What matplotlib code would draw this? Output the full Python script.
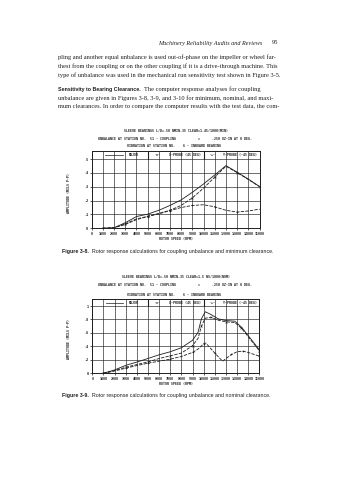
import numpy
from matplotlib import pyplot as plt

# ----------
# Data

rpm_ticks = list(range(0, 16000, 1000))

# Figure 3-8, minimum clearance
rpm_a = [1000, 2000, 3000, 4000, 5000, 6000, 7000, 8000, 9000, 10000, 11000, 12000, 13000, 14000, 15000]
major_a = [0.0, 0.004, 0.040, 0.085, 0.102, 0.130, 0.165, 0.205, 0.260, 0.320, 0.385, 0.452, 0.405, 0.355, 0.302]
xprobe_a = [0.0, 0.004, 0.032, 0.068, 0.086, 0.108, 0.130, 0.165, 0.220, 0.290, 0.370, 0.448, 0.402, 0.352, 0.300]
yprobe_a = [0.0, 0.004, 0.028, 0.062, 0.085, 0.104, 0.128, 0.150, 0.165, 0.170, 0.155, 0.130, 0.117, 0.125, 0.138]

# Figure 3-9, nominal clearance
rpm_b = [1000, 2000, 3000, 4000, 5000, 6000, 7000, 8000, 9000, 9500, 9800, 10150, 10700, 11300, 12000, 12800, 13400, 14000, 15000]
major_b = [0.0, 0.05, 0.118, 0.167, 0.220, 0.275, 0.320, 0.380, 0.490, 0.610, 0.810, 0.915, 0.870, 0.810, 0.784, 0.775, 0.686, 0.560, 0.350]
xprobe_b = [0.0, 0.04, 0.090, 0.130, 0.170, 0.220, 0.260, 0.300, 0.410, 0.520, 0.700, 0.820, 0.830, 0.790, 0.765, 0.755, 0.670, 0.545, 0.335]
rpm_by = [1000, 2000, 3000, 4000, 5000, 6000, 7000, 8000, 9000, 9500, 10000, 10200, 11000, 11700, 12500, 13000, 13500, 14000, 15000]
yprobe_b = [0.0, 0.035, 0.075, 0.115, 0.150, 0.180, 0.210, 0.250, 0.310, 0.360, 0.440, 0.450, 0.300, 0.180, 0.280, 0.320, 0.330, 0.310, 0.255]

W, H = 341, 480
ink = '#1e1e1e'
mono = 'DejaVu Sans Mono'

fig = plt.figure(figsize=(W / 100, H / 100), dpi=100)
fig.patch.set_facecolor('white')


def fx(x):
    return x / W


def fy(y):
    return 1 - y / H


def page_text(x, y, s, **kw):
    kw.setdefault('color', ink)
    kw.setdefault('va', 'center')
    fig.text(fx(x), fy(y), s, **kw)


# ----------
# Page text

serif = 'Liberation Serif'
page_text(158, 43, 'Machinery Reliability Audits and Reviews', family=serif, style='italic', fontsize=4.4)
page_text(278, 43, '95', family=serif, fontsize=4.6, ha='right')

body = [
    (57.3, 'pling and another equal unbalance is used out-of-phase on the impeller or wheel far-'),
    (66.0, 'thest from the coupling or on the other coupling if it is a drive-through machine. This'),
    (74.7, 'type of unbalance was used in the mechanical run sensitivity test shown in Figure 3-5.'),
    (97.7, 'unbalance are given in Figures 3-8, 3-9, and 3-10 for minimum, nominal, and maxi-'),
    (106.3, 'mum clearances. In order to compare the computer results with the test data, the com-'),
]
for y, line in body:
    page_text(58, y, line, family=serif, fontsize=4.55)
page_text(58, 89.3, 'Sensitivity to Bearing Clearance.', family='Liberation Sans', weight='bold', fontsize=3.8)
page_text(144, 89.3, 'The computer response analyses for coupling', family=serif, fontsize=4.55)


# ----------
# Charts

def chart(top, bottom, left, right, ymax, yticks, ylabels, header, series, caption_no, caption_txt,
          title_y, cap_y):
    ax = fig.add_axes([fx(left), fy(bottom), (right - left) / W, (bottom - top) / H])
    ax.set_xlim(0, 15000)
    ax.set_ylim(0, ymax)
    ax.set_xticks(rpm_ticks)
    ax.set_xticklabels([str(t) for t in rpm_ticks], family=mono, fontsize=2.3, weight='bold')
    ax.set_yticks(yticks)
    ax.set_yticklabels(ylabels, family=mono, fontsize=2.5, weight='bold')
    ax.tick_params(length=1.2, width=0.5, pad=1.2, colors=ink)
    ax.grid(True, color=ink, lw=0.45)
    for s in ax.spines.values():
        s.set_linewidth(0.7)
        s.set_color(ink)
    ax.set_axisbelow(True)

    # legend row above the top grid line
    ytop = yticks[-1]
    ymid = (ytop + ymax) / 2
    for xs in (5000, 10000):
        ax.plot([xs, xs], [ytop, ymax], color=ink, lw=0.8)
    ax.plot([1200, 2800], [ymid, ymid], color=ink, lw=0.5)
    ax.text(3300, ymid, 'MAJOR', family=mono, fontsize=2.3, weight='bold', va='center', color=ink)
    ax.text(5600, ymid, '-x-', family=mono, fontsize=2.3, weight='bold', va='center', color=ink)
    ax.text(6900, ymid, 'X-PROBE (45 DEG)', family=mono, fontsize=2.3, weight='bold', va='center', color=ink)
    ax.text(10500, ymid, '-+-', family=mono, fontsize=2.3, weight='bold', va='center', color=ink)
    ax.text(11700, ymid, 'Y-PROBE (-45 DEG)', family=mono, fontsize=2.3, weight='bold', va='center', color=ink)

    (xa, ya), (xb, yb), (xc, yc) = series
    ax.plot(xa, ya, color=ink, lw=0.6)
    ax.plot(xb, yb, color=ink, lw=0.6, ls=(0, (4, 1.5)), marker='x', ms=1.4, mew=0.4, markevery=2)
    ax.plot(xc, yc, color=ink, lw=0.6, ls=(0, (4, 1.5)), marker='+', ms=1.6, mew=0.4, markevery=2)

    # header lines
    page_text(176, title_y[0], header[0], family=mono, fontsize=2.3, weight='bold', ha='center')
    page_text(98, title_y[1], header[1], family=mono, fontsize=2.3, weight='bold')
    page_text(198, title_y[1], '=', family=mono, fontsize=2.3, weight='bold')
    page_text(212, title_y[1], header[2], family=mono, fontsize=2.3, weight='bold')
    page_text(127, title_y[2], 'VIBRATION AT STATION NO.', family=mono, fontsize=2.3, weight='bold')
    page_text(183, title_y[2], '6 - INBOARD BEARING', family=mono, fontsize=2.3, weight='bold')

    page_text(69, (top + bottom) / 2 + 3, 'AMPLITUDE (MILS P-P)', family=mono, fontsize=2.3,
              weight='bold', rotation=90, ha='center')
    page_text((left + right) / 2, bottom + 10.5, 'ROTOR SPEED (RPM)', family=mono, fontsize=2.3,
              weight='bold', ha='center')

    page_text(62, cap_y, caption_no, family='Liberation Sans', weight='bold', fontsize=3.75)
    page_text(92, cap_y, caption_txt, family='Liberation Sans', fontsize=3.8)
    return ax


chart(150.7, 228.3, 91.7, 259.5, 0.56,
      [0, 0.1, 0.2, 0.3, 0.4, 0.5], ['0', '.1', '.2', '.3', '.4', '.5'],
      ['SLEEVE BEARINGS L/D=.50 NMIN.35 CLEAR=1.45/1000(MIN)',
       'UNBALANCE AT STATION NO.  51 - COUPLING', '.250 OZ-IN AT 0 DEG.'],
      [(rpm_a, major_a), (rpm_a, xprobe_a), (rpm_a, yprobe_a)],
      'Figure 3-8.', 'Rotor response calculations for coupling unbalance and minimum clearance.',
      (130.7, 139.0, 146.3), 251.2)

chart(299.3, 373.3, 92.3, 259.3, 1.10,
      [0, 0.2, 0.4, 0.6, 0.8, 1.0], ['0', '.2', '.4', '.6', '.8', '1'],
      ['SLEEVE BEARINGS L/D=.50 NMIN.35 CLEAR=1.5 NS/1000(NOM)',
       'UNBALANCE AT STATION NO.  51 - COUPLING', '.250 OZ-IN AT 0 DEG.'],
      [(rpm_b, major_b), (rpm_b, xprobe_b), (rpm_by, yprobe_b)],
      'Figure 3-9.', 'Rotor response calculations for coupling unbalance and nominal clearance.',
      (276.5, 285.5, 294.5), 395.0)

fig.savefig('out.png', dpi=100, facecolor='white')
